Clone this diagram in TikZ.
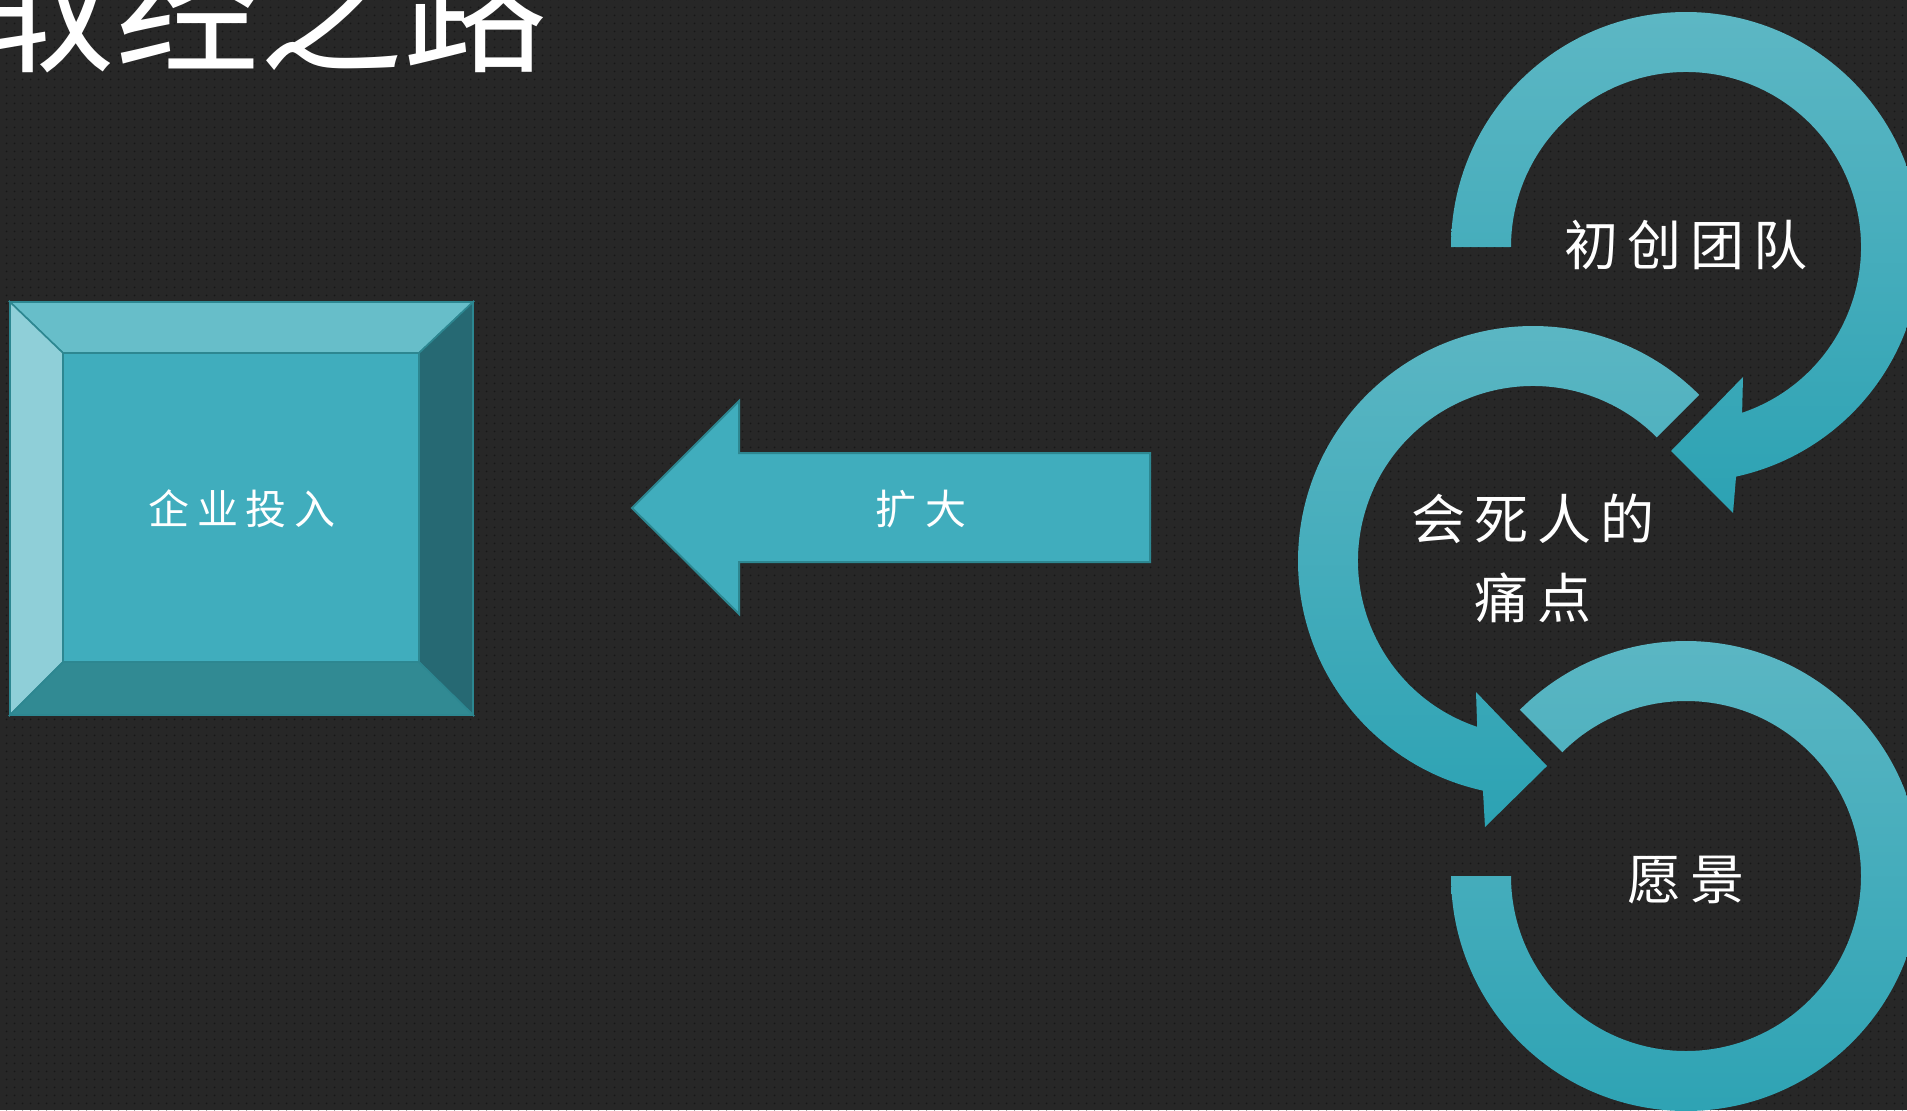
\documentclass[tikz,border=0pt]{standalone}
\usepackage{fontspec}
\newfontfamily\cjk{Noto Sans CJK SC}
\usetikzlibrary{calc,patterns.meta}
\definecolor{bg}{HTML}{272727}
\definecolor{bgdot}{HTML}{171717}
\definecolor{face}{HTML}{40ADBD}
\definecolor{bvtop}{HTML}{67BEC9}
\definecolor{bvleft}{HTML}{8FCFD8}
\definecolor{bvright}{HTML}{266973}
\definecolor{bvbot}{HTML}{318A93}
\definecolor{edge}{HTML}{2D8791}
\definecolor{ringtop}{HTML}{5DB7C4}
\definecolor{ringbot}{HTML}{2CA2B3}
\begin{document}
\begin{tikzpicture}[x=0.5pt,y=-0.5pt,
  ringshape/.style={top color=ringtop, bottom color=ringbot},
  bevelpart/.style={draw=edge, line width=0.8pt, line join=miter},
  lbl/.style={text=white, inner sep=0pt, align=center, font=\cjk\fontsize{27pt}{39.5pt}\selectfont},
  smalllbl/.style={text=white, inner sep=0pt, font=\cjk\fontsize{20.5pt}{24pt}\selectfont}]
\path[use as bounding box, fill=bg] (0,0) rectangle (1907,1110);
\clip (0,0) rectangle (1907,1110);
\fill[pattern={Dots[distance=4pt, radius=0.55pt]}, pattern color=bgdot] (0,0) rectangle (1907,1110);

% title
\node[anchor=base west, text=white, inner sep=0pt, font=\cjk\fontsize{72pt}{72pt}\selectfont] (title) at (-29,61) {取经之路};

% bevel box
\coordinate (o1) at (10,302);
\coordinate (o2) at (473,302);
\coordinate (o3) at (473,715);
\coordinate (o4) at (10,715);
\coordinate (i1) at (63,353);
\coordinate (i2) at (419,353);
\coordinate (i3) at (419,662);
\coordinate (i4) at (63,662);
\filldraw[bevelpart, fill=bvtop] (o1) -- (o2) -- (i2) -- (i1) -- cycle;
\filldraw[bevelpart, fill=bvleft] (o1) -- (i1) -- (i4) -- (o4) -- cycle;
\filldraw[bevelpart, fill=bvright] (o2) -- (o3) -- (i3) -- (i2) -- cycle;
\filldraw[bevelpart, fill=bvbot] (o4) -- (i4) -- (i3) -- (o3) -- cycle;
\filldraw[bevelpart, fill=face] (i1) -- (i2) -- (i3) -- (i4) -- cycle;
\node[smalllbl] (invest) at (242,509) {企\kern3.8pt 业\kern3.8pt 投\kern3.8pt 入};

% block arrow
\filldraw[fill=face, draw=edge, line width=1pt] (632,508) -- (739,401) -- (739,453) -- (1150,453) -- (1150,562) -- (739,562) -- (739,614) -- cycle;
\node[smalllbl] (expand) at (921,509) {扩\kern5pt 大};

% circular arrows
\coordinate (cA) at (1686,247);
\coordinate (cB) at (1533,561);
\coordinate (cC) at (1686,876);

\shade[ringshape] ($(cA)+(180:235)$) arc[start angle=180, end angle=437.7, radius=235]
  -- (1733,513) -- (1671,451) -- (1743,377)
  -- ($(cA)+(431.3:175)$) arc[start angle=431.3, end angle=180, radius=175] -- cycle;

\shade[ringshape] ($(cB)+(-45:235)$) arc[start angle=-45, end angle=-257.7, radius=235]
  -- (1485,827) -- (1547,766) -- (1476,692)
  -- ($(cB)+(-251.4:175)$) arc[start angle=-251.4, end angle=-45, radius=175] -- cycle;

\shade[ringshape] ($(cC)+(225:235)$) arc[start angle=225, end angle=540, radius=235]
  -- ($(cC)+(540:175)$) arc[start angle=540, end angle=225, radius=175] -- cycle;

\node[lbl] (team) at (1686,245) {初\kern4.4pt 创\kern4.4pt 团\kern4.4pt 队};
\node[lbl] (pain) at (1533,558) {会\kern4.4pt 死\kern4.4pt 人\kern4.4pt 的\\痛\kern4.4pt 点};
\node[lbl] (vision) at (1686,880) {愿\kern4.4pt 景};
\end{tikzpicture}
\end{document}
